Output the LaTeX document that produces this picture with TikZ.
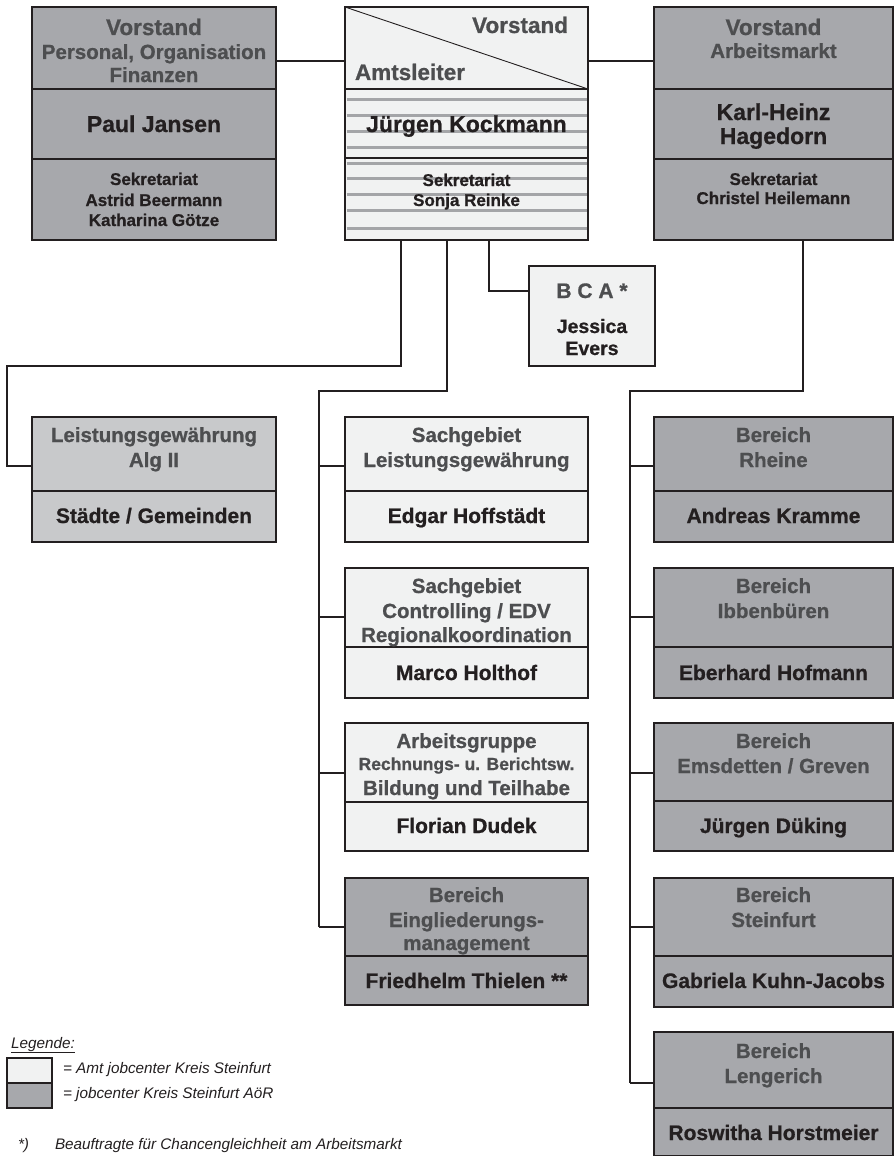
\documentclass[tikz,border=0pt]{standalone}
\usepackage{fontspec}
\setmainfont{Liberation Sans}[BoldFeatures={FakeBold=0.8}]
\definecolor{dk}{HTML}{A7A8AC}
\definecolor{lt}{HTML}{F1F2F2}
\definecolor{md}{HTML}{C8C9CB}
\definecolor{ln}{HTML}{231F20}
\definecolor{hdc}{HTML}{4D4E50}
\definecolor{nmc}{HTML}{231F20}
\definecolor{stripe}{HTML}{A4A5A8}
\tikzset{
  sec/.style={draw=ln, line width=1.5pt, anchor=north west, inner sep=0pt, outer sep=0pt},
  con/.style={draw=ln, line width=1.5pt},
  tx/.style={anchor=base, inner sep=0pt, outer sep=0pt},
  hd/.style={tx, text=hdc, font=\bfseries\fontsize{20.5}{24}\selectfont},
  hdL/.style={tx, text=hdc, font=\bfseries\fontsize{22.5}{26}\selectfont},
  nm/.style={tx, text=nmc, font=\bfseries\fontsize{21}{24}\selectfont},
  nmL/.style={tx, text=nmc, font=\bfseries\fontsize{23}{26}\selectfont},
  sk/.style={tx, text=nmc, font=\bfseries\fontsize{17}{20}\selectfont},
  sm/.style={tx, text=hdc, font=\bfseries\fontsize{17.5}{20}\selectfont},
  lg/.style={anchor=base west, inner sep=0pt, outer sep=0pt, text=nmc, font=\itshape\fontsize{15.3}{18}\selectfont},
}
\begin{document}
\begin{tikzpicture}[x=1pt,y=-1pt]
\useasboundingbox (0,0) rectangle (894,1156);
\fill[white] (0,0) rectangle (894,1156);

% ---------- top row ----------
\node[sec, fill=dk, minimum width=244pt, minimum height=82pt] (pjH) at (32,7) {};
\node[sec, fill=dk, minimum width=244pt, minimum height=70pt] (pjN) at (32,89) {};
\node[sec, fill=dk, minimum width=244pt, minimum height=81pt] (pjS) at (32,159) {};

\node[sec, fill=lt, minimum width=243pt, minimum height=82pt] (amH) at (345,7) {};
\node[sec, fill=lt, minimum width=243pt, minimum height=69pt] (amN) at (345,89) {};
\node[sec, fill=lt, minimum width=243pt, minimum height=82pt] (amS) at (345,158) {};
\foreach \yy in {99,115,131,147,163,178,194,210,228}
  \draw[stripe, line width=3pt] (346.5,\yy) -- (586.5,\yy);
\draw[ln, line width=1.5pt] (amN.north west) -- (amN.north east);
\draw[ln, line width=1.5pt] (amS.north west) -- (amS.north east);
\draw[ln, line width=1.5pt] (amN.north west) rectangle (amS.south east);
\draw[ln, line width=0.9pt] (amH.north west) -- (amH.south east);

\node[sec, fill=dk, minimum width=239pt, minimum height=82pt] (khH) at (654,7) {};
\node[sec, fill=dk, minimum width=239pt, minimum height=70pt] (khN) at (654,89) {};
\node[sec, fill=dk, minimum width=239pt, minimum height=81pt] (khS) at (654,159) {};

\node[sec, fill=lt, minimum width=126pt, minimum height=100pt] (bca) at (529,266) {};

% ---------- left ----------
\node[sec, fill=md, minimum width=244pt, minimum height=74pt] (algH) at (32,417) {};
\node[sec, fill=md, minimum width=244pt, minimum height=51pt] (algN) at (32,491) {};

% ---------- middle column ----------
\node[sec, fill=lt, minimum width=243pt, minimum height=74pt] (m1H) at (345,417) {};
\node[sec, fill=lt, minimum width=243pt, minimum height=51pt] (m1N) at (345,491) {};
\node[sec, fill=lt, minimum width=243pt, minimum height=79pt] (m2H) at (345,568) {};
\node[sec, fill=lt, minimum width=243pt, minimum height=51pt] (m2N) at (345,647) {};
\node[sec, fill=lt, minimum width=243pt, minimum height=79pt] (m3H) at (345,723) {};
\node[sec, fill=lt, minimum width=243pt, minimum height=49pt] (m3N) at (345,802) {};
\node[sec, fill=dk, minimum width=243pt, minimum height=78pt] (m4H) at (345,878) {};
\node[sec, fill=dk, minimum width=243pt, minimum height=49pt] (m4N) at (345,956) {};

% ---------- right column ----------
\node[sec, fill=dk, minimum width=239pt, minimum height=74pt] (r1H) at (654,417) {};
\node[sec, fill=dk, minimum width=239pt, minimum height=51pt] (r1N) at (654,491) {};
\node[sec, fill=dk, minimum width=239pt, minimum height=79pt] (r2H) at (654,568) {};
\node[sec, fill=dk, minimum width=239pt, minimum height=51pt] (r2N) at (654,647) {};
\node[sec, fill=dk, minimum width=239pt, minimum height=78pt] (r3H) at (654,723) {};
\node[sec, fill=dk, minimum width=239pt, minimum height=50pt] (r3N) at (654,801) {};
\node[sec, fill=dk, minimum width=239pt, minimum height=78pt] (r4H) at (654,878) {};
\node[sec, fill=dk, minimum width=239pt, minimum height=51pt] (r4N) at (654,956) {};
\node[sec, fill=dk, minimum width=239pt, minimum height=76pt] (r5H) at (654,1032) {};
\node[sec, fill=dk, minimum width=239pt, minimum height=48pt] (r5N) at (654,1108) {};

% ---------- connectors ----------
\draw[con] (pjH.east |- 0,61) -- (amH.west |- 0,61);
\draw[con] (amH.east |- 0,61) -- (khH.west |- 0,61);
\draw[con] (amS.south -| 401,0) |- (7,366) |- (algH.west |- 0,466);
\coordinate (busM) at (319,391);
\coordinate (busMend) at (319,927);
\draw[con] (amS.south -| 447,0) |- (busM) -- (busMend);
\draw[con] (319,466) -- (m1H.west |- 0,466);
\draw[con] (319,617) -- (m2H.west |- 0,617);
\draw[con] (319,773) -- (m3H.west |- 0,773);
\draw[con] (busMend) -- (m4H.west |- 0,927);
\draw[con] (amS.south -| 489,0) |- (bca.west |- 0,291);
\coordinate (busR) at (630,391);
\coordinate (busRend) at (630,1083);
\draw[con] (khS.south -| 803,0) |- (busR) -- (busRend);
\draw[con] (630,466) -- (r1H.west |- 0,466);
\draw[con] (630,617) -- (r2H.west |- 0,617);
\draw[con] (630,773) -- (r3H.west |- 0,773);
\draw[con] (630,927) -- (r4H.west |- 0,927);
\draw[con] (busRend) -- (r5H.west |- 0,1083);

% ---------- texts: top ----------
\node[hdL] (pjT1) at (154,35) {Vorstand};
\node[hd]  (pjT2) at (154,59) {Personal, Organisation};
\node[hd]  (pjT3) at (154,82) {Finanzen};
\node[nmL] (pjT4) at (154,132) {Paul Jansen};
\node[sk]  (pjT5) at (154,185) {Sekretariat};
\node[sk]  (pjT6) at (154,206) {Astrid Beermann};
\node[sk]  (pjT7) at (154,226) {Katharina Götze};

\node[hdL, anchor=base east] (amT1) at (568,33) {Vorstand};
\node[hdL, anchor=base west] (amT2) at (355,80) {Amtsleiter};
\node[nmL] (amT3) at (466.5,132) {Jürgen Kockmann};
\node[sk]  (amT4) at (466.5,186) {Sekretariat};
\node[sk]  (amT5) at (466.5,206) {Sonja Reinke};

\node[hdL] (khT1) at (773.5,35) {Vorstand};
\node[hd]  (khT2) at (773.5,58) {Arbeitsmarkt};
\node[nmL] (khT3) at (773.5,120) {Karl-Heinz};
\node[nmL] (khT4) at (773.5,144) {Hagedorn};
\node[sk]  (khT5) at (773.5,185) {Sekretariat};
\node[sk]  (khT6) at (773.5,204) {Christel Heilemann};

\node[hd, font=\bfseries\fontsize{21}{24}\selectfont] (bcaT1) at (592,298) {B C A *};
\node[nm, font=\bfseries\fontsize{19.5}{22}\selectfont] (bcaT2) at (592,333) {Jessica};
\node[nm, font=\bfseries\fontsize{19.5}{22}\selectfont] (bcaT3) at (592,355) {Evers};

% ---------- texts: left ----------
\node[hd] (algT1) at (154,442) {Leistungsgewährung};
\node[hd] (algT2) at (154,467) {Alg II};
\node[nm] (algT3) at (154,523) {Städte / Gemeinden};

% ---------- texts: middle ----------
\node[hd] (m1T1) at (466.5,442) {Sachgebiet};
\node[hd] (m1T2) at (466.5,467) {Leistungsgewährung};
\node[nm] (m1T3) at (466.5,523) {Edgar Hoffstädt};

\node[hd] (m2T1) at (466.5,593) {Sachgebiet};
\node[hd] (m2T2) at (466.5,618) {Controlling / EDV};
\node[hd] (m2T3) at (466.5,642) {Regionalkoordination};
\node[nm] (m2T4) at (466.5,680) {Marco Holthof};

\node[hd] (m3T1) at (466.5,748) {Arbeitsgruppe};
\node[sm] (m3T2) at (466.5,770) {Rechnungs- u. Berichtsw.};
\node[hd] (m3T3) at (466.5,795) {Bildung und Teilhabe};
\node[nm] (m3T4) at (466.5,833) {Florian Dudek};

\node[hd] (m4T1) at (466.5,902) {Bereich};
\node[hd] (m4T2) at (466.5,927) {Eingliederungs-};
\node[hd] (m4T3) at (466.5,950) {management};
\node[nm] (m4T4) at (466.5,988) {Friedhelm Thielen **};

% ---------- texts: right ----------
\node[hd] (r1T1) at (773.5,442) {Bereich};
\node[hd] (r1T2) at (773.5,467) {Rheine};
\node[nm] (r1T3) at (773.5,523) {Andreas Kramme};

\node[hd] (r2T1) at (773.5,593) {Bereich};
\node[hd] (r2T2) at (773.5,618) {Ibbenbüren};
\node[nm] (r2T3) at (773.5,680) {Eberhard Hofmann};

\node[hd] (r3T1) at (773.5,748) {Bereich};
\node[hd] (r3T2) at (773.5,773) {Emsdetten / Greven};
\node[nm] (r3T3) at (773.5,833) {Jürgen Düking};

\node[hd] (r4T1) at (773.5,902) {Bereich};
\node[hd] (r4T2) at (773.5,927) {Steinfurt};
\node[nm] (r4T3) at (773.5,988) {Gabriela Kuhn-Jacobs};

\node[hd] (r5T1) at (773.5,1058) {Bereich};
\node[hd] (r5T2) at (773.5,1083) {Lengerich};
\node[nm] (r5T3) at (773.5,1140) {Roswitha Horstmeier};

% ---------- legend ----------
\node[lg] (lgT) at (11,1048) {\underline{Legende:}};
\node[sec, fill=lt, line width=1.2pt, minimum width=45pt, minimum height=25pt] (lgA) at (7,1058) {};
\node[sec, fill=dk, line width=1.2pt, minimum width=45pt, minimum height=25pt] (lgB) at (7,1083) {};
\node[lg] (lgAT) at (63,1073) {= Amt jobcenter Kreis Steinfurt};
\node[lg] (lgBT) at (63,1098) {= jobcenter Kreis Steinfurt AöR};
\node[lg] (fnM) at (18,1149) {*)};
\node[lg] (fnT) at (55,1149) {Beauftragte für Chancengleichheit am Arbeitsmarkt};
\end{tikzpicture}
\end{document}
